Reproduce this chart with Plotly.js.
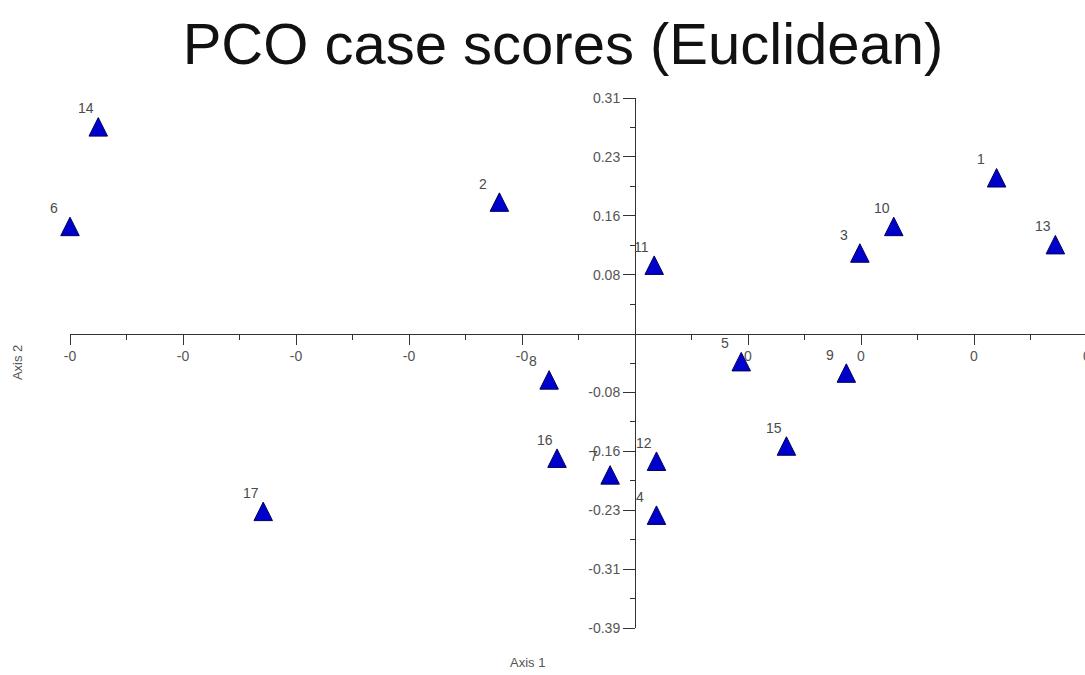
<!DOCTYPE html>
<html>
<head>
<meta charset="utf-8">
<script src="https://cdn.plot.ly/plotly-3.0.1.min.js"></script>
<style>html,body{margin:0;padding:0;overflow:hidden;background:#fff;}</style>
</head>
<body>
<div id="chart"></div>
<script>
// Case labels and PCO scores
const caseLabels  = ['1','2','3','4','5','6','7','8','9','10','11','12','13','14','15','16','17'];
const axis1Scores = [0.320, -0.120, 0.199, 0.019, 0.094, -0.500, -0.022, -0.076, 0.187, 0.229, 0.017, 0.019, 0.372, -0.475, 0.134, -0.069, -0.329];
const axis2Scores = [0.205, 0.173, 0.106, -0.239, -0.037, 0.141, -0.186, -0.061, -0.052, 0.141, 0.090, -0.168, 0.117, 0.272, -0.148, -0.164, -0.234];

// Tick values / labels (labels as printed in the reference)
const xTickVals  = [-0.5, -0.4, -0.3, -0.2, -0.1, 0.1, 0.2, 0.3, 0.4];
const xTickText  = ['-0', '-0', '-0', '-0', '-0', '0', '0', '0', '0'];
const xMinorVals = [-0.45, -0.35, -0.25, -0.15, -0.05, 0.05, 0.15, 0.25, 0.35];
const yTickVals  = [0.31, 0.2325, 0.155, 0.0775, -0.0775, -0.155, -0.2325, -0.31, -0.3875];
const yTickText  = ['0.31', '0.23', '0.16', '0.08', '-0.08', '-0.16', '-0.23', '-0.31', '-0.39'];
const yMinorVals = [0.27125, 0.19375, 0.11625, 0.03875, -0.03875, -0.11625, -0.19375, -0.27125, -0.34875];

const xRange = [-0.5, 0.4];
const yRange = [-0.3875, 0.31];

const chartTitle = 'PCO case scores (Euclidean)';
const xTitle = 'Axis 1';
const yTitle = 'Axis 2';

const markerSize = 18.5;
const axisColor = '#333';
const tickFont = {family: 'Liberation Sans, Arial, sans-serif', size: 14, color: '#555'};

// position of crossing axes (paper fraction)
const xAxisPos = (0 - yRange[0]) / (yRange[1] - yRange[0]);
const yAxisPos = (0 - xRange[0]) / (xRange[1] - xRange[0]);

const trace = {
  type: 'scatter',
  mode: 'markers',
  x: axis1Scores,
  y: axis2Scores,
  text: caseLabels,
  cliponaxis: false,
  hoverinfo: 'text+x+y',
  marker: {
    symbol: 'arrow-down',
    angle: 180,
    standoff: markerSize / 2,
    size: markerSize,
    color: '#0000CC',
    line: {color: '#00005A', width: 1}
  },
  showlegend: false
};

const labelAnnotations = caseLabels.map((lab, i) => ({
  x: axis1Scores[i], y: axis2Scores[i], xref: 'x', yref: 'y',
  text: lab, showarrow: false,
  xanchor: 'left', yanchor: 'middle',
  xshift: -22, yshift: 18.5,
  font: {family: 'Liberation Sans, Arial, sans-serif', size: 14, color: '#4a4a4a'}
}));

const axisTitleAnnotations = [
  {xref: 'paper', yref: 'paper', x: 0.4494, y: -0.066, text: xTitle, showarrow: false,
   xanchor: 'center', yanchor: 'middle',
   font: {family: 'Liberation Sans, Arial, sans-serif', size: 13, color: '#555'}},
  {xref: 'paper', yref: 'paper', x: -0.052, y: 0.5, text: yTitle, showarrow: false, textangle: -90,
   xanchor: 'center', yanchor: 'middle',
   font: {family: 'Liberation Sans, Arial, sans-serif', size: 13, color: '#555'}}
];

const baseX = {
  range: xRange, anchor: 'free', position: xAxisPos,
  showgrid: false, zeroline: false, fixedrange: true,
  tickmode: 'array', tickvals: xTickVals, ticktext: xTickText,
  tickcolor: axisColor, tickwidth: 1, tickfont: tickFont
};
const baseY = {
  range: yRange, anchor: 'free', position: yAxisPos,
  showgrid: false, zeroline: false, fixedrange: true,
  tickmode: 'array', tickvals: yTickVals, ticktext: yTickText,
  tickcolor: axisColor, tickwidth: 1, tickfont: tickFont
};

const layout = {
  width: 1092, height: 675,
  margin: {l: 70, r: 5, t: 98, b: 47},
  paper_bgcolor: '#fff', plot_bgcolor: '#fff',
  title: {
    text: chartTitle,
    font: {family: 'Liberation Sans, Arial, sans-serif', size: 58, color: '#111'},
    xref: 'container', x: 0.5156, xanchor: 'center',
    yref: 'container', y: 0.935, yanchor: 'middle'
  },
  xaxis: Object.assign({}, baseX, {
    showline: true, linecolor: axisColor, linewidth: 1,
    ticks: 'outside', ticklen: 10,
    minor: {tickmode: 'array', tickvals: xMinorVals, ticks: 'outside', ticklen: 5, tickcolor: axisColor, tickwidth: 1, showgrid: false}
  }),
  xaxis2: Object.assign({}, baseX, {
    overlaying: 'x', showline: false, showticklabels: false,
    ticks: 'inside', ticklen: 10,
    minor: {tickmode: 'array', tickvals: xMinorVals, ticks: 'inside', ticklen: 5, tickcolor: axisColor, tickwidth: 1, showgrid: false}
  }),
  yaxis: Object.assign({}, baseY, {
    showline: true, linecolor: axisColor, linewidth: 1,
    ticks: 'outside', ticklen: 12,
    minor: {tickmode: 'array', tickvals: yMinorVals, ticks: 'outside', ticklen: 5, tickcolor: axisColor, tickwidth: 1, showgrid: false}
  }),
  yaxis2: Object.assign({}, baseY, {
    overlaying: 'y', showline: false, showticklabels: false,
    ticks: 'inside', ticklen: 10,
    minor: {tickmode: 'array', tickvals: yMinorVals, ticks: 'inside', ticklen: 5, tickcolor: axisColor, tickwidth: 1, showgrid: false}
  }),
  annotations: labelAnnotations.concat(axisTitleAnnotations),
  showlegend: false
};

Plotly.newPlot('chart', [trace], layout, {displayModeBar: false, staticPlot: true});
</script>
</body>
</html>
